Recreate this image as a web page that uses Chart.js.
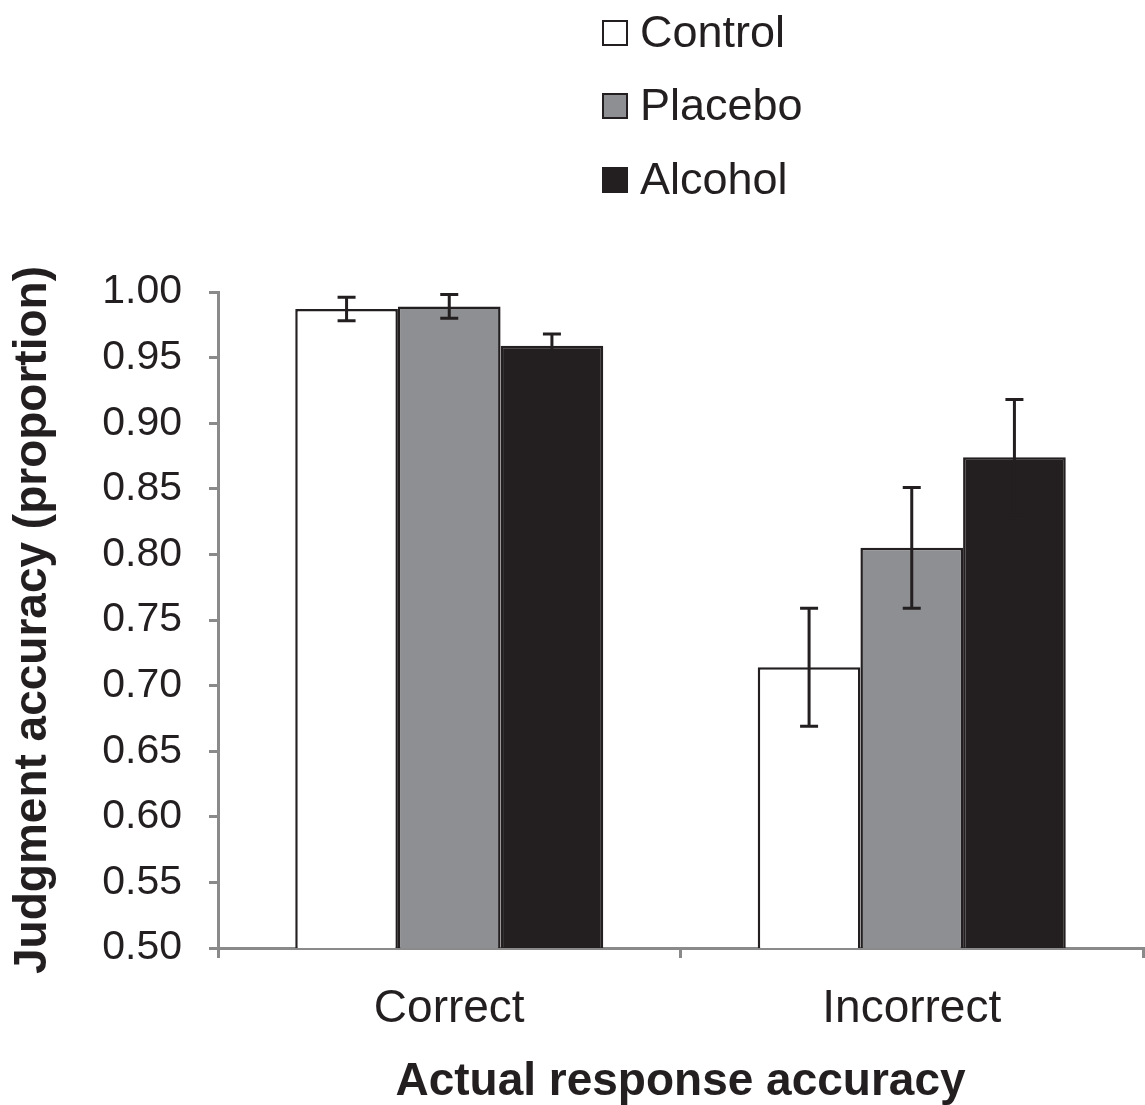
<!DOCTYPE html>
<html>
<head>
<meta charset="utf-8">
<script src="https://cdn.jsdelivr.net/npm/chart.js@4/dist/chart.umd.min.js"></script>
<style>
  html, body { margin: 0; padding: 0; background: #ffffff; }
  #wrap { width: 1145px; height: 1105px; }
</style>
</head>
<body>
<div id="wrap"><canvas id="chart" width="1145" height="1105"></canvas></div>
<script>
// Judgment accuracy by actual response accuracy and beverage condition
const categories = ['Correct', 'Incorrect'];
const seriesNames = ['Control', 'Placebo', 'Alcohol'];
const controlMeans = [0.987, 0.714];
const placeboMeans = [0.989, 0.805];
const alcoholMeans = [0.959, 0.874];
const controlErr = [0.009, 0.045];
const placeboErr = [0.009, 0.046];
const alcoholErr = [0.009, 0.044];
const yMin = 0.50, yMax = 1.00, yStep = 0.05;

const FONT = "'Liberation Sans', Arial, Helvetica, sans-serif";
const INK = '#231f20';
const AXIS = '#8a8a8a';
const fills = ['#ffffff', '#8e8f92', '#231f20'];

// Error bars (mean ± SE) drawn on top of each bar
const errorBars = {
  id: 'errorBars',
  afterDatasetsDraw(chart) {
    const ctx = chart.ctx;
    const y = chart.scales.y;
    ctx.save();
    ctx.strokeStyle = INK;
    ctx.lineWidth = 3;
    chart.data.datasets.forEach((ds, di) => {
      const meta = chart.getDatasetMeta(di);
      meta.data.forEach((bar, i) => {
        const v = ds.data[i], e = ds.errors[i];
        const yTop = y.getPixelForValue(v + e);
        const yBot = y.getPixelForValue(v - e);
        const cap = 9;
        ctx.beginPath();
        ctx.moveTo(bar.x, yTop); ctx.lineTo(bar.x, yBot);
        ctx.moveTo(bar.x - cap, yTop); ctx.lineTo(bar.x + cap, yTop);
        ctx.moveTo(bar.x - cap, yBot); ctx.lineTo(bar.x + cap, yBot);
        ctx.stroke();
      });
    });
    ctx.restore();
  }
};

// Vertical legend in the upper area
const stackedLegend = {
  id: 'stackedLegend',
  afterDraw(chart) {
    const ctx = chart.ctx;
    const x0 = 603, box = 24, rows = [33, 106, 180];
    ctx.save();
    ctx.font = '45px ' + FONT;
    ctx.textBaseline = 'middle';
    ctx.textAlign = 'left';
    chart.data.datasets.forEach((ds, i) => {
      const cy = rows[i];
      ctx.fillStyle = ds.backgroundColor;
      ctx.fillRect(x0, cy - box / 2, box, box);
      ctx.lineWidth = 2;
      ctx.strokeStyle = INK;
      ctx.strokeRect(x0, cy - box / 2, box, box);
      ctx.fillStyle = INK;
      ctx.fillText(ds.label, x0 + box + 13, cy + 2);
    });
    ctx.restore();
  }
};

const makeSet = (i, data, errors) => ({
  label: seriesNames[i],
  data: data,
  errors: errors,
  backgroundColor: fills[i],
  borderColor: INK,
  borderWidth: 2.5,
  categoryPercentage: 0.666,
  barPercentage: 1.0
});

new Chart(document.getElementById('chart'), {
  type: 'bar',
  data: {
    labels: categories,
    datasets: [
      makeSet(0, controlMeans, controlErr),
      makeSet(1, placeboMeans, placeboErr),
      makeSet(2, alcoholMeans, alcoholErr)
    ]
  },
  options: {
    responsive: false,
    animation: false,
    layout: { padding: { top: 292, left: 0, right: 2, bottom: 0 } },
    plugins: {
      legend: { display: false },
      tooltip: { enabled: false }
    },
    scales: {
      x: {
        afterFit(s) { s.height = 157; },
        grid: { offset: true, drawOnChartArea: false, drawTicks: true, tickLength: 10, color: AXIS, lineWidth: 3 },
        border: { display: true, color: AXIS, width: 3 },
        ticks: { color: INK, font: { family: FONT, size: 46 }, padding: 24 },
        title: {
          display: true,
          text: 'Actual response accuracy',
          color: INK,
          font: { family: FONT, size: 46, weight: 'bold' },
          padding: { top: 0, bottom: -5 }
        }
      },
      y: {
        min: yMin,
        max: yMax,
        afterFit(s) { s.width = 218; },
        afterBuildTicks(s) {
          const t = [];
          for (let k = 0; k <= Math.round((yMax - yMin) / yStep); k++) t.push({ value: +(yMin + k * yStep).toFixed(2) });
          s.ticks = t;
        },
        grid: { drawOnChartArea: false, drawTicks: true, tickLength: 9, color: AXIS, lineWidth: 3 },
        border: { display: true, color: AXIS, width: 3 },
        ticks: {
          color: INK,
          font: { family: FONT, size: 41 },
          padding: 27,
          callback: (v) => Number(v).toFixed(2)
        },
        title: {
          display: true,
          text: 'Judgment accuracy (proportion)',
          color: INK,
          font: { family: FONT, size: 46, weight: 'bold' },
          padding: { top: 6, bottom: 0 }
        }
      }
    }
  },
  plugins: [errorBars, stackedLegend]
});
</script>
</body>
</html>
